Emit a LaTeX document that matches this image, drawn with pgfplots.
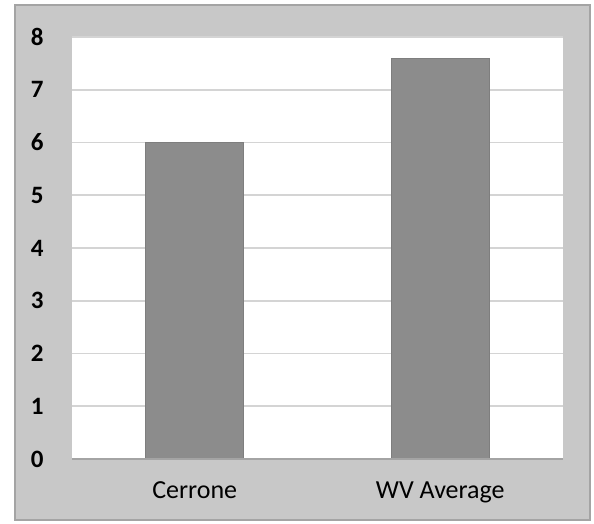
\documentclass[border=0pt]{standalone}
\usepackage{fontspec}
\setmainfont{Carlito}
\usepackage{pgfplots}
\pgfplotsset{compat=1.18}
\definecolor{framegray}{HTML}{C8C8C8}
\definecolor{framedark}{HTML}{A4A4A4}
\definecolor{bargray}{HTML}{8C8C8C}
\definecolor{gridgray}{HTML}{D4D4D4}
\begin{document}
\begin{tikzpicture}
\path[fill=white] (0,0) rectangle (297pt,262pt);
\path[fill=framegray, draw=framedark, line width=1.2pt] (7.5pt,2pt) rectangle (295pt,259.5pt);
\path[fill=white] (36pt,32.5pt) rectangle (281.5pt,243.5pt);
\begin{axis}[
  at={(36pt,32.5pt)}, anchor=south west,
  scale only axis, width=245.5pt, height=211pt,
  xmin=-0.5, xmax=1.5, ymin=0, ymax=8,
  ytick={0,...,8},
  xtick=data, xticklabels={Cerrone, WV Average},
  ymajorgrids, grid style={gridgray, line width=0.8pt},
  axis line style={draw=none},
  major tick length=0pt,
  /pgf/number format/assume math mode=true,
  ticklabel style={text=black},
  yticklabel style={inner sep=0pt, xshift=-14pt, font=\bfseries\fontsize{12.5pt}{14pt}\selectfont},
  xticklabel style={inner sep=0pt, yshift=-11pt, font=\fontsize{13pt}{15pt}\selectfont},
  ybar, bar width=0.4*245.5pt/2,
  clip=false,
]
\addplot[fill=bargray, draw=bargray!90!black, line width=0.5pt] coordinates {(0,6.0) (1,7.6)};
\draw[framedark, line width=1pt] (axis cs:-0.5,0) -- (axis cs:1.5,0);
\end{axis}
\end{tikzpicture}
\end{document}
